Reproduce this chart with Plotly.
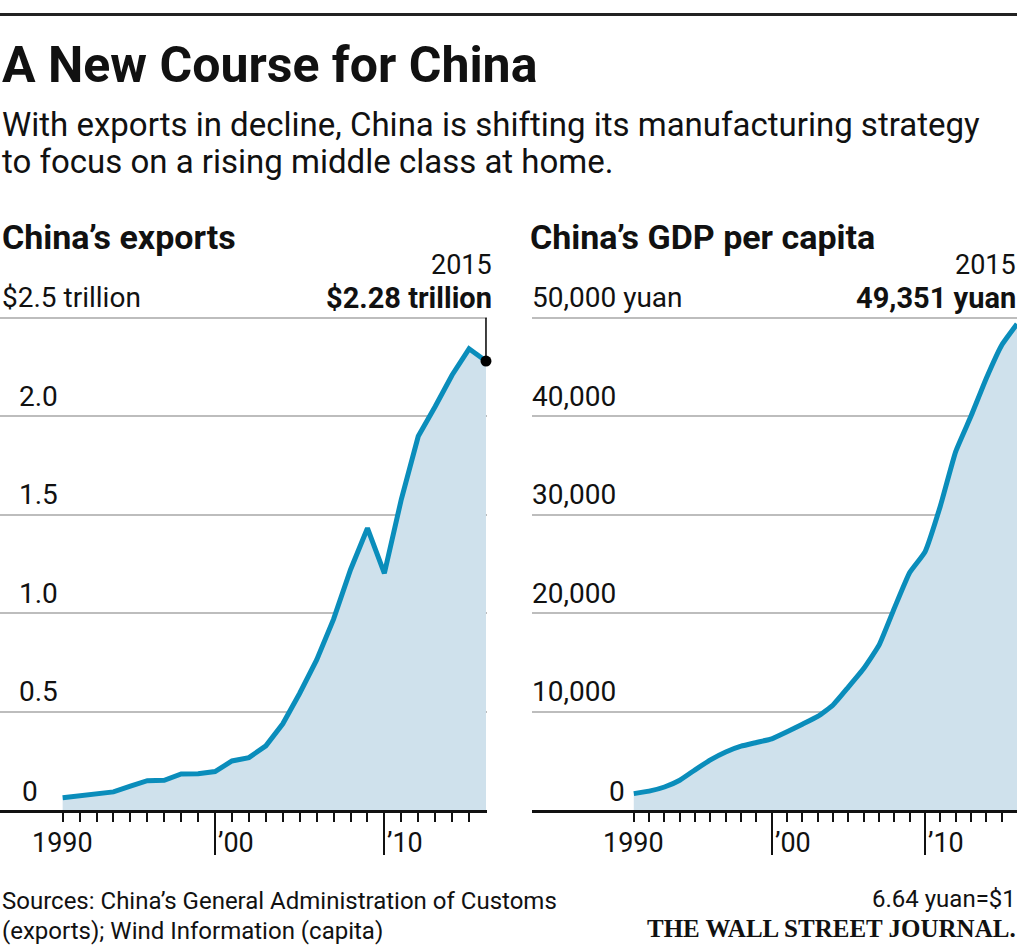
import plotly.graph_objects as go

# ---------------- data ----------------
years = list(range(1990, 2016))
# China's exports, trillion US$
exports = [0.062, 0.072, 0.085, 0.092, 0.121, 0.149, 0.151, 0.183, 0.184, 0.195,
           0.249, 0.266, 0.326, 0.438, 0.593, 0.762, 0.969, 1.220, 1.431, 1.202,
           1.578, 1.898, 2.049, 2.209, 2.342, 2.28]
# China's GDP per capita, yuan
gdp_pc = [1663, 1912, 2334, 3027, 4081, 5091, 5898, 6481, 6860, 7229,
          7942, 8717, 9506, 10666, 12487, 14368, 16738, 20505, 24121, 26222,
          30876, 36403, 40007, 43852, 47203, 49351]

exp_grid = [0.5, 1.0, 1.5, 2.0, 2.5]
exp_grid_labels = ["0.5", "1.0", "1.5", "2.0", "$2.5 trillion"]
gdp_grid = [10000, 20000, 30000, 40000, 50000]
gdp_grid_labels = ["10,000", "20,000", "30,000", "40,000", "50,000 yuan"]

minor_tick_years = list(range(1990, 2015))
major_tick_years = [1999, 2009]          # decade marks drawn just before the labelled year
year_labels = ["’00", "’10"]
first_year_label = "1990"

title = "A New Course for China"
subtitle = ["With exports in decline, China is shifting its manufacturing strategy",
            "to focus on a rising middle class at home."]
left_title = "China’s exports"
right_title = "China’s GDP per capita"
sources = ["Sources: China’s General Administration of Customs",
           "(exports); Wind Information (capita)"]
fx_note = "6.64 yuan=$1"
brand = "THE WALL STREET JOURNAL."

# ---------------- style ----------------
W, H = 1024, 947
FONT = "Roboto"
INK = "#111111"
LINE = "#0a8dbb"
FILL = "#cfe1ec"
GRID = "#bdbdbd"


def px(x):
    return x / W


def py(y):
    return 1 - y / H


fig = go.Figure()

fig.add_trace(go.Scatter(x=years, y=exports, mode="lines", fill="tozeroy",
                         fillcolor=FILL, line=dict(color=LINE, width=5),
                         xaxis="x", yaxis="y", hoverinfo="skip"))
fig.add_trace(go.Scatter(x=[years[-1]], y=[exports[-1]], mode="markers",
                         marker=dict(color="black", size=11), cliponaxis=False,
                         xaxis="x", yaxis="y", hoverinfo="skip"))
fig.add_trace(go.Scatter(x=years, y=gdp_pc, mode="lines", fill="tozeroy",
                         fillcolor=FILL, line=dict(color=LINE, width=5, shape="spline", smoothing=0.4),
                         xaxis="x2", yaxis="y2", hoverinfo="skip"))

ydom = [py(810), py(298)]

common_x = dict(showgrid=False, zeroline=False, showline=True, linecolor=INK, linewidth=3,
                ticks="outside", tickvals=major_tick_years, ticklen=42, tickwidth=2,
                tickcolor=INK, showticklabels=False,
                minor=dict(tickvals=minor_tick_years, ticks="outside", ticklen=9,
                           tickwidth=2, tickcolor=INK))

fig.update_layout(
    width=W, height=H, margin=dict(l=0, r=0, t=0, b=0),
    paper_bgcolor="white", plot_bgcolor="white", showlegend=False,
    font=dict(family=FONT, color=INK),
    xaxis=dict(domain=[0, px(487)], range=[1986.30, 2015.06], **common_x),
    xaxis2=dict(domain=[px(532), px(1017)], range=[1983.36, 2015.0], anchor="y2", **common_x),
    yaxis=dict(domain=ydom, range=[0, 2.6], tickvals=exp_grid, showgrid=True,
               gridcolor=GRID, gridwidth=1.5, zeroline=False, showticklabels=False,
               ticks="", anchor="x"),
    yaxis2=dict(domain=ydom, range=[0, 52000], tickvals=gdp_grid, showgrid=True,
                gridcolor=GRID, gridwidth=1.5, zeroline=False, showticklabels=False,
                ticks="", anchor="x2"),
)

shapes = [
    dict(type="line", xref="paper", yref="paper", x0=0, x1=px(1017), y0=py(14.5), y1=py(14.5),
         line=dict(color="#222222", width=3)),
    dict(type="line", xref="x", yref="y", x0=years[-1], x1=years[-1], y0=exports[-1], y1=exp_grid[-1],
         line=dict(color="black", width=1.5)),
]
fig.update_layout(shapes=shapes)

ann = []


def text(x, y, s, size, anchor="left", xref="paper", yref="paper", xshift=0, yshift=0,
         family=FONT, color=INK):
    ann.append(dict(x=x, y=y, xref=xref, yref=yref, text=s, showarrow=False,
                    xanchor=anchor, yanchor="middle", xshift=xshift, yshift=yshift,
                    font=dict(family=family, size=size, color=color)))


text(px(0), py(65), "<b>" + title + "</b>", 50)
text(px(0), py(125), subtitle[0], 33)
text(px(0), py(162), subtitle[1], 33)
text(px(0), py(237), "<b>" + left_title + "</b>", 34)
text(px(528), py(237), "<b>" + right_title + "</b>", 34)

# left y labels
for v, lab in zip(exp_grid, exp_grid_labels):
    x = px(0) if "trillion" in lab else px(17)
    text(x, v, lab, 28, yref="y", yshift=20)
text(px(20), 0, "0", 28, yref="y", yshift=19)
# right y labels
for v, lab in zip(gdp_grid, gdp_grid_labels):
    text(px(530), v, lab, 28, yref="y2", yshift=20)
text(px(627), 0, "0", 28, anchor="right", yref="y2", yshift=19)

# end-point callouts
text(px(494), py(265), str(years[-1]), 27, anchor="right")
text(px(494), py(298), "<b>${:.2f} trillion</b>".format(exports[-1]), 29, anchor="right")
text(px(1018), py(265), str(years[-1]), 27, anchor="right")
text(px(1018), py(298), "<b>{:,} yuan</b>".format(gdp_pc[-1]), 29, anchor="right")

# x tick labels
for xr in ["x", "x2"]:
    text(years[0], py(843), first_year_label, 27, anchor="center", xref=xr)
    for yv, lab in zip(major_tick_years, year_labels):
        text(yv, py(843), lab, 27, anchor="left", xref=xr, xshift=1)

# footer
text(px(0), py(901), sources[0], 24)
text(px(0), py(931), sources[1], 24)
text(px(1018), py(899), fx_note, 24, anchor="right")
text(px(1018), py(928), "<b>" + brand + "</b>", 25, anchor="right", family="Liberation Serif")

fig.update_layout(annotations=ann)

fig.write_html("out.html", config={"displayModeBar": False},
               post_script="document.body.style.margin='0';")
